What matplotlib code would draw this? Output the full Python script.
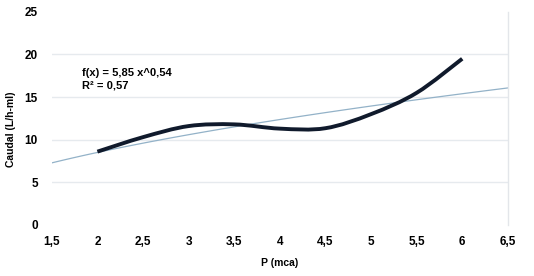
import matplotlib
matplotlib.use("Agg")
import matplotlib.pyplot as plt
import numpy as np
from matplotlib.path import Path
from matplotlib.patches import PathPatch

# Data
pressure = [2.0, 2.5, 3.0, 3.5, 4.0, 4.5, 5.0, 5.5, 6.0]
flow = [8.6, 10.3, 11.6, 11.8, 11.3, 11.35, 13.0, 15.5, 19.5]
trend_a = 5.85
trend_b = 0.54
trend_range = [1.5, 6.5]
x_ticks = [1.5, 2, 2.5, 3, 3.5, 4, 4.5, 5, 5.5, 6, 6.5]
y_ticks = [0, 5, 10, 15, 20, 25]

plt.rcParams['font.family'] = ['Liberation Sans', 'DejaVu Sans']

fig = plt.figure(figsize=(5.34, 2.76), dpi=100)
ax = fig.add_axes([0.097, 0.185, 0.854, 0.772])

# smooth curve (Excel-like Catmull-Rom via cubic Bezier)
px = np.array(pressure); py = np.array(flow)
verts = [(px[0], py[0])]
codes = [Path.MOVETO]
n = len(px)
for i in range(n - 1):
    p0 = np.array([px[max(i - 1, 0)], py[max(i - 1, 0)]])
    p1 = np.array([px[i], py[i]])
    p2 = np.array([px[i + 1], py[i + 1]])
    p3 = np.array([px[min(i + 2, n - 1)], py[min(i + 2, n - 1)]])
    c1 = p1 + (p2 - p0) / 6.0
    c2 = p2 - (p3 - p1) / 6.0
    verts += [tuple(c1), tuple(c2), tuple(p2)]
    codes += [Path.CURVE4] * 3

# trend line
tx = np.linspace(trend_range[0], trend_range[1], 100)
ax.plot(tx, trend_a * tx ** trend_b, color='#93b2c8', lw=0.9, zorder=2)

patch = PathPatch(Path(verts, codes), facecolor='none', edgecolor='#101a2c',
                  lw=2.8, capstyle='butt', zorder=3)
ax.add_patch(patch)

ax.set_xlim(1.5, 6.5)
ax.set_ylim(0, 25)
ax.set_xticks(x_ticks)
ax.set_yticks(y_ticks)
fmt = lambda v: (('%g' % v).replace('.', ','))
ax.set_xticklabels([fmt(v) for v in x_ticks], fontsize=8.5, fontweight='bold')
ax.set_yticklabels([fmt(v) for v in y_ticks], fontsize=8.5, fontweight='bold')
ax.tick_params(length=0, pad=8)
ax.tick_params(axis='y', pad=10)

for v in [5, 10, 15, 20]:
    ax.axhline(v, color='#e6eaee', lw=1.0, zorder=1)

for s in ['top', 'left', 'bottom']:
    ax.spines[s].set_visible(False)
ax.spines['right'].set_color('#e3e6ea')
ax.spines['right'].set_linewidth(1.0)

ax.set_xlabel('P (mca)', fontsize=7.5, fontweight='bold', labelpad=7)
ax.set_ylabel('Caudal (L/h-ml)', fontsize=7.5, fontweight='bold', labelpad=8)
ax.yaxis.set_label_coords(-0.078, 0.45)

ax.text(1.83, 18.4, 'f(x) = 5,85 x^0,54\nR² = 0,57', fontsize=8, fontweight='bold',
        va='top', ha='left', linespacing=1.25)

fig.savefig('out.png', dpi=100, facecolor='white')
